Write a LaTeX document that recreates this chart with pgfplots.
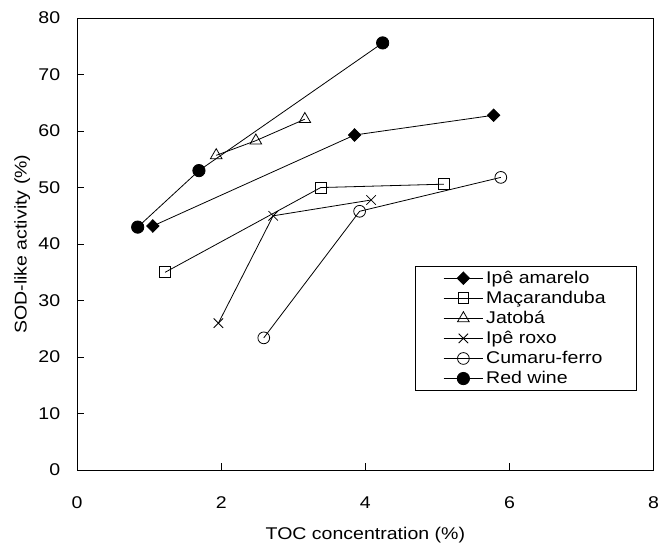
\documentclass[border=0pt]{standalone}
\usepackage{pgfplots}
\pgfplotsset{compat=1.18}
\usepackage{fontspec}
\setmainfont{Liberation Sans}[FakeStretch=1.15]

\begin{document}
\begin{tikzpicture}
\begin{axis}[
    width=431pt, height=338pt, scale only axis,
    xmin=0, xmax=8, ymin=0, ymax=80,
    xtick={0,2,4,6,8}, ytick={0,10,...,80},
    tick align=inside, tick pos=left,
    major tick length=5pt,
    axis line style={line width=0.8pt},
    tick style={black, line width=0.6pt},
    font=\fontsize{12.7}{15}\selectfont,
    /pgf/number format/assume math mode=true,
    xticklabel style={anchor=center, inner sep=0pt, yshift=-24pt},
    yticklabel style={anchor=east, inner sep=0pt, xshift=-12.5pt},
    xlabel={TOC concentration (\%)},
    ylabel={SOD-like activity (\%)},
    xlabel style={at={(axis description cs:0.5,0)}, anchor=center, inner sep=0pt, yshift=-48.5pt},
    ylabel style={at={(axis description cs:0,0.5)}, anchor=center, inner sep=0pt, rotate=0, yshift=41pt},
    every axis plot/.append style={black, line width=0.6pt},
    legend style={at={(0.971,0.175)}, anchor=south east, draw=black,
        line width=0.6pt, inner xsep=21pt, inner ysep=1.5pt,
        font=\fontsize{12.7}{15}\selectfont, row sep=0pt,
        cells={inner xsep=3.5pt, inner ysep=0pt, text height=9.5pt, text depth=3.5pt}},
    legend cell align=left,
    legend image code/.code={
        \draw[mark repeat=2, mark phase=2] plot coordinates {(0cm,0cm) (0.52cm,0cm) (1.04cm,0cm)};},
]
\addplot[mark=diamond*, mark size=4.7pt, mark options={xscale=1.3, fill=black}]
    coordinates {(1.05,43.2) (3.85,59.3) (5.78,62.8)};
\addlegendentry{Ipê amarelo}
\addplot[mark=square, mark size=4.1pt, mark options={fill=white}]
    coordinates {(1.22,35.0) (3.38,50.0) (5.09,50.6)};
\addlegendentry{Maçaranduba}
\addplot[mark=triangle, mark size=5pt, mark options={fill=white}]
    coordinates {(1.93,55.7) (2.48,58.3) (3.16,62.1)};
\addlegendentry{Jatobá}
\addplot[mark=x, mark size=5pt]
    coordinates {(1.96,26.0) (2.72,45.0) (4.08,47.8)};
\addlegendentry{Ipê roxo}
\addplot[mark=o, mark size=4.4pt, mark options={fill=white}]
    coordinates {(2.59,23.4) (3.92,45.8) (5.88,51.8)};
\addlegendentry{Cumaru-ferro}
\addplot[mark=*, mark size=4.6pt, mark options={fill=black}]
    coordinates {(0.84,43.0) (1.69,53.0) (4.24,75.6)};
\addlegendentry{Red wine}
\end{axis}
\path (current axis.south west) ++(-57.7pt,-55.5pt);
\path (current axis.north east) ++(3pt,13.5pt);
\end{tikzpicture}
\end{document}
